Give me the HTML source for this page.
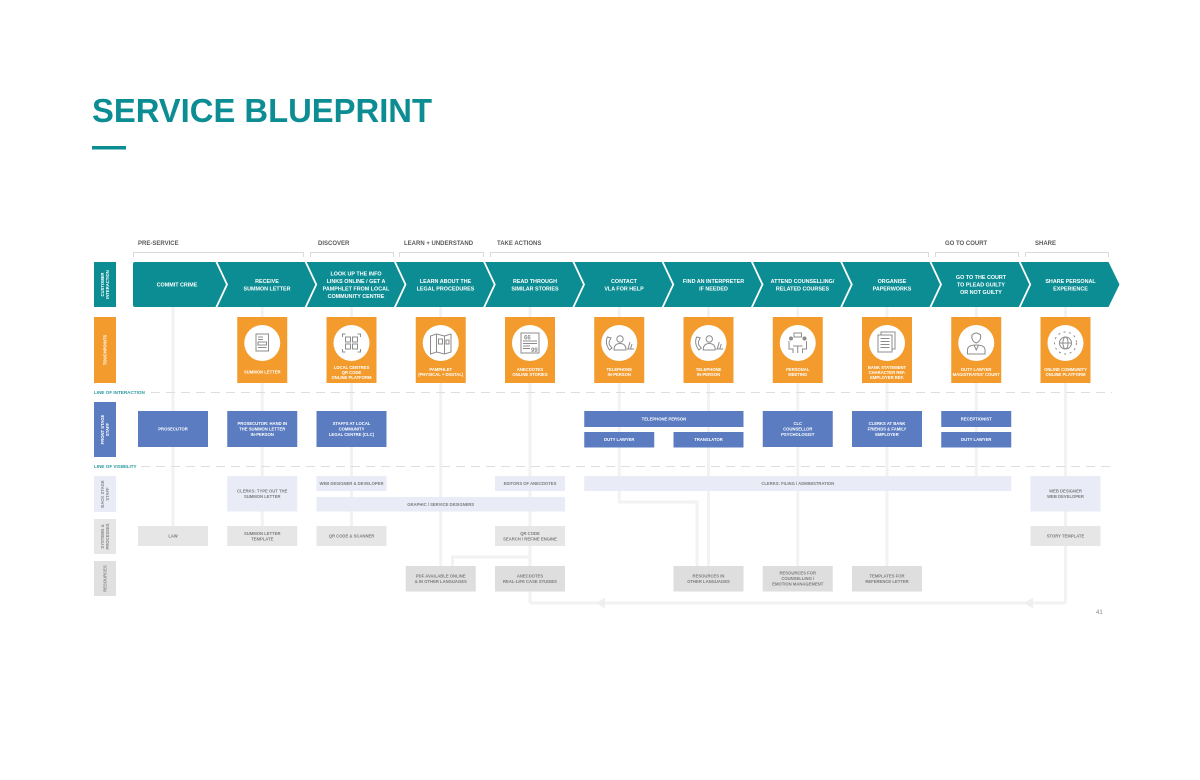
<!DOCTYPE html>
<html>
<head>
<meta charset="utf-8">
<style>
html,body{margin:0;padding:0;background:#fff;}
svg{display:block;}
text{font-family:"Liberation Sans",sans-serif;}
.ph{font-size:6px;font-weight:bold;fill:#5a5a5a;}
.ch{font-size:5.4px;font-weight:bold;fill:#fff;}
.bw{font-size:4.2px;font-weight:bold;fill:#fff;}
.bg{font-size:4.2px;font-weight:bold;fill:#7d7d7d;}
.lb{font-size:4.2px;font-weight:bold;fill:#fff;}
.lg{font-size:4.2px;font-weight:bold;fill:#8a8a8a;}
.ln{font-size:4.6px;font-weight:bold;fill:#2a9aa0;}
.ic{fill:none;stroke:#8c8c8c;stroke-width:1;}
.icf{fill:#8c8c8c;}
</style>
</head>
<body>
<svg width="1200" height="780" viewBox="0 0 1200 780" xmlns="http://www.w3.org/2000/svg">
<rect width="1200" height="780" fill="#fff"/>

<!-- Title -->
<text x="92" y="122" font-size="33" font-weight="bold" fill="#0b8d93" textLength="340" lengthAdjust="spacingAndGlyphs">SERVICE BLUEPRINT</text>
<rect x="92" y="146" width="34" height="3.5" fill="#0b8d93"/>

<!-- Phase labels -->
<text class="ph" x="138" y="245">PRE-SERVICE</text>
<text class="ph" x="318" y="245">DISCOVER</text>
<text class="ph" x="404" y="245">LEARN + UNDERSTAND</text>
<text class="ph" x="497" y="245">TAKE ACTIONS</text>
<text class="ph" x="945" y="245">GO TO COURT</text>
<text class="ph" x="1035" y="245">SHARE</text>

<!-- Brackets -->
<g fill="none" stroke="#dadada" stroke-width="1">
<path d="M133.5,257 V252.5 H303.5 V257"/>
<path d="M310.5,257 V252.5 H393.5 V257"/>
<path d="M399.5,257 V252.5 H483.5 V257"/>
<path d="M490.5,257 V252.5 H928.5 V257"/>
<path d="M935.5,257 V252.5 H1018.5 V257"/>
<path d="M1025.5,257 V252.5 H1108.5 V257"/>
</g>

<!-- Connectors -->
<g fill="none" stroke="#f2f2f2" stroke-width="3">
<line x1="173" y1="307" x2="173" y2="526"/>
<line x1="262.25" y1="307" x2="262.25" y2="526"/>
<line x1="351.5" y1="307" x2="351.5" y2="526"/>
<line x1="440.75" y1="307" x2="440.75" y2="566"/>
<line x1="530" y1="307" x2="530" y2="603"/>
<path d="M619.25,307 V502 H697 V566"/>
<line x1="708.5" y1="307" x2="708.5" y2="566"/>
<line x1="797.75" y1="307" x2="797.75" y2="566"/>
<line x1="887" y1="307" x2="887" y2="566"/>
<line x1="976.25" y1="307" x2="976.25" y2="476"/>
<line x1="1065.5" y1="307" x2="1065.5" y2="603"/>
<line x1="530" y1="603" x2="1065.5" y2="603"/>
<path d="M530,557 H452.5 V566"/>
</g>
<polygon points="596,603 605,597.5 605,608.5" fill="#efefef"/>
<polygon points="1024,603 1033,597.5 1033,608.5" fill="#efefef"/>

<!-- Left labels -->
<rect x="94" y="262" width="22" height="45" fill="#0b8d93"/>
<text class="lb" text-anchor="middle" transform="translate(105,284.5) rotate(-90)"><tspan x="0" y="-0.8">CUSTOMER</tspan><tspan x="0" y="4.2">INTERACTION</tspan></text>
<rect x="94" y="317" width="22" height="66" fill="#f39c2d"/>
<text class="lb" text-anchor="middle" transform="translate(105,350) rotate(-90)"><tspan x="0" y="1.5">TOUCHPOINTS</tspan></text>
<rect x="94" y="402" width="22" height="55" fill="#5b7cc1"/>
<text class="lb" text-anchor="middle" transform="translate(105,429.5) rotate(-90)"><tspan x="0" y="-0.8">FRONT STAGE</tspan><tspan x="0" y="4.2">STAFF</tspan></text>
<rect x="94" y="476" width="22" height="36" fill="#e9ebf7"/>
<text class="lg" text-anchor="middle" transform="translate(105,494) rotate(-90)"><tspan x="0" y="-0.8">BACK STAGE</tspan><tspan x="0" y="4.2">STAFF</tspan></text>
<rect x="94" y="519" width="22" height="35" fill="#e6e6e6"/>
<text class="lg" text-anchor="middle" transform="translate(105,536.5) rotate(-90)"><tspan x="0" y="-0.8">SYSTEMS &amp;</tspan><tspan x="0" y="4.2">PROCESSES</tspan></text>
<rect x="94" y="561" width="22" height="35" fill="#e0e0e0"/>
<text class="lg" text-anchor="middle" transform="translate(105,578.5) rotate(-90)"><tspan x="0" y="1.5">RESOURCES</tspan></text>

<!-- Chevrons -->
<path d="M135,262 H1108.5 L1119.5,284.5 L1108.5,307 H135 Q133,307 133,305 V264 Q133,262 135,262 Z" fill="#0b8d93"/>
<g fill="none" stroke="#fff" stroke-width="1.8">
<polyline points="216,261 227,284.5 216,308"/>
<polyline points="305.25,261 316.25,284.5 305.25,308"/>
<polyline points="394.5,261 405.5,284.5 394.5,308"/>
<polyline points="483.75,261 494.75,284.5 483.75,308"/>
<polyline points="573,261 584,284.5 573,308"/>
<polyline points="662.25,261 673.25,284.5 662.25,308"/>
<polyline points="751.5,261 762.5,284.5 751.5,308"/>
<polyline points="840.75,261 851.75,284.5 840.75,308"/>
<polyline points="930,261 941,284.5 930,308"/>
<polyline points="1019.25,261 1030.25,284.5 1019.25,308"/>
</g>
<g class="ch" text-anchor="middle">
<text x="177" y="286.5">COMMIT CRIME</text>
<text x="267"><tspan x="267" y="282.8">RECEIVE</tspan><tspan x="267" y="290.3">SUMMON LETTER</tspan></text>
<text><tspan x="356" y="275.3">LOOK UP THE INFO</tspan><tspan x="356" y="282.8">LINKS ONLINE / GET A</tspan><tspan x="356" y="290.3">PAMPHLET FROM  LOCAL</tspan><tspan x="356" y="297.8">COMMUNITY CENTRE</tspan></text>
<text><tspan x="445.5" y="282.8">LEARN ABOUT THE</tspan><tspan x="445.5" y="290.3">LEGAL PROCEDURES</tspan></text>
<text><tspan x="535" y="282.8">READ THROUGH</tspan><tspan x="535" y="290.3">SIMILAR STORIES</tspan></text>
<text><tspan x="624" y="282.8">CONTACT</tspan><tspan x="624" y="290.3">VLA FOR HELP</tspan></text>
<text><tspan x="713.5" y="282.8">FIND AN INTERPRETER</tspan><tspan x="713.5" y="290.3">IF NEEDED</tspan></text>
<text><tspan x="802.5" y="282.8">ATTEND COUNSELLING/</tspan><tspan x="802.5" y="290.3">RELATED COURSES</tspan></text>
<text><tspan x="892" y="282.8">ORGANISE</tspan><tspan x="892" y="290.3">PAPERWORKS</tspan></text>
<text><tspan x="981" y="279">GO TO THE COURT</tspan><tspan x="981" y="286.5">TO PLEAD GUILTY</tspan><tspan x="981" y="294">OR NOT GUILTY</tspan></text>
<text><tspan x="1070.5" y="282.8">SHARE PERSONAL</tspan><tspan x="1070.5" y="290.3">EXPERIENCE</tspan></text>
</g>

<!-- Touchpoints -->
<g fill="#f39c2d">
<rect x="237.25" y="317" width="50" height="66"/>
<rect x="326.5" y="317" width="50" height="66"/>
<rect x="415.75" y="317" width="50" height="66"/>
<rect x="505" y="317" width="50" height="66"/>
<rect x="594.25" y="317" width="50" height="66"/>
<rect x="683.5" y="317" width="50" height="66"/>
<rect x="772.75" y="317" width="50" height="66"/>
<rect x="862" y="317" width="50" height="66"/>
<rect x="951.25" y="317" width="50" height="66"/>
<rect x="1040.5" y="317" width="50" height="66"/>
</g>
<g fill="#fff">
<circle cx="262.25" cy="343" r="18"/>
<circle cx="351.5" cy="343" r="18"/>
<circle cx="440.75" cy="343" r="18"/>
<circle cx="530" cy="343" r="18"/>
<circle cx="619.25" cy="343" r="18"/>
<circle cx="708.5" cy="343" r="18"/>
<circle cx="797.75" cy="343" r="18"/>
<circle cx="887" cy="343" r="18"/>
<circle cx="976.25" cy="343" r="18"/>
<circle cx="1065.5" cy="343" r="18"/>
</g>
<!-- icons -->
<g class="ic">
<rect x="256" y="334" width="12.5" height="17"/>
<line x1="258" y1="337" x2="263" y2="337"/><line x1="258" y1="339.5" x2="263" y2="339.5"/>
<rect x="258" y="342" width="8.5" height="3"/>
<line x1="258" y1="347.5" x2="266.5" y2="347.5"/>
<path d="M342.5,337 V334 H345.5 M357.5,334 H360.5 V337 M360.5,349 V352 H357.5 M345.5,352 H342.5 V349"/>
<rect x="345.5" y="337" width="5" height="5"/><rect x="352.5" y="337" width="5" height="5"/>
<rect x="345.5" y="344" width="5" height="5"/><rect x="352.5" y="344" width="5" height="5"/>
<path d="M430.5,336 L436.5,334 L444.5,336 L451,334 V352 L444.5,354 L436.5,352 L430.5,354 Z"/>
<line x1="436.5" y1="334" x2="436.5" y2="352"/><line x1="444.5" y1="336" x2="444.5" y2="354"/>
<rect x="438.5" y="339" width="4" height="5"/><rect x="446" y="340" width="3" height="4"/>
<rect x="521" y="333" width="18" height="20"/>
<line x1="523" y1="341" x2="537" y2="341"/><line x1="523" y1="343.5" x2="537" y2="343.5"/>
<line x1="523" y1="346" x2="530" y2="346"/><line x1="523" y1="348.5" x2="530" y2="348.5"/>
<path d="M607.5,337 Q604.5,343 609.5,350 L612,348 L609.5,345 Q608.5,342 610,340 L611,338 Z"/>
<circle cx="620" cy="339" r="3.2"/><path d="M614,350 Q614,343.5 620,343.5 Q626,343.5 626,350 Z"/>
<path d="M628,349 L630,342 M630.5,349 L632,344 M627,349 H634"/>
<path d="M696.75,337 Q693.75,343 698.75,350 L701.25,348 L698.75,345 Q697.75,342 699.25,340 L700.25,338 Z"/>
<circle cx="709.25" cy="339" r="3.2"/><path d="M703.25,350 Q703.25,343.5 709.25,343.5 Q715.25,343.5 715.25,350 Z"/>
<path d="M717.25,349 L719.25,342 M719.75,349 L721.25,344 M716.25,349 H723.25"/>
<path d="M789,341 V349 H793 V353 M806.5,341 V349 H802.5 V353"/>
<line x1="793" y1="346" x2="802.5" y2="346"/><line x1="797.75" y1="346" x2="797.75" y2="353"/>
<rect x="794" y="333" width="7.5" height="4"/>
<rect x="878" y="335" width="14" height="17"/>
<path d="M881,335 V332 H895 V349 H892"/>
<line x1="880.5" y1="338.5" x2="889.5" y2="338.5"/><line x1="880.5" y1="341.5" x2="889.5" y2="341.5"/>
<line x1="880.5" y1="344.5" x2="889.5" y2="344.5"/><line x1="880.5" y1="347.5" x2="889.5" y2="347.5"/>
<path d="M972,335 Q976.25,331 980.5,335 Q981.5,341 976.25,343 Q971,341 972,335 Z"/>
<path d="M967.5,354 V350 Q967.5,345 976.25,345 Q985,345 985,350 V354 Z"/>
<path d="M974,345 L976.25,350 L978.5,345"/>
<circle cx="1065.5" cy="343" r="6"/>
<ellipse cx="1065.5" cy="343" rx="2.6" ry="6"/>
<line x1="1059.5" y1="343" x2="1071.5" y2="343"/>
<circle cx="1065.5" cy="343" r="11" stroke-dasharray="2 3.5"/>
</g>
<g class="icf">
<circle cx="791" cy="338.5" r="2"/><circle cx="804.5" cy="338.5" r="2"/>
<text x="524" y="339.5" font-size="6" font-weight="bold" fill="#8c8c8c">66</text>
<text x="531" y="352" font-size="6" font-weight="bold" fill="#8c8c8c">99</text>
</g>
<g class="bw" text-anchor="middle">
<text x="262.25" y="373.5">SUMMON LETTER</text>
<text><tspan x="351.5" y="369">LOCAL CENTRES</tspan><tspan x="351.5" y="374">QR CODE</tspan><tspan x="351.5" y="379">ONLINE PLATFORM</tspan></text>
<text><tspan x="440.75" y="371">PAMPHLET</tspan><tspan x="440.75" y="376">(PHYSICAL + DIGITAL)</tspan></text>
<text><tspan x="530" y="371">ANECDOTES</tspan><tspan x="530" y="376">ONLINE STORIES</tspan></text>
<text><tspan x="619.25" y="371">TELEPHONE</tspan><tspan x="619.25" y="376">IN-PERSON</tspan></text>
<text><tspan x="708.5" y="371">TELEPHONE</tspan><tspan x="708.5" y="376">IN-PERSON</tspan></text>
<text><tspan x="797.75" y="371">PERSONAL</tspan><tspan x="797.75" y="376">MEETING</tspan></text>
<text><tspan x="887" y="369">BANK STATEMENT</tspan><tspan x="887" y="374">CHARACTER REF.</tspan><tspan x="887" y="379">EMPLOYER REF.</tspan></text>
<text><tspan x="976.25" y="371">DUTY LAWYER</tspan><tspan x="976.25" y="376">MAGISTRATES' COURT</tspan></text>
<text><tspan x="1065.5" y="371">ONLINE COMMUNITY</tspan><tspan x="1065.5" y="376">ONLINE PLATFORM</tspan></text>
</g>

<!-- Lines of interaction / visibility -->
<text class="ln" x="94" y="394">LINE OF INTERACTION</text>
<line x1="151" y1="392.5" x2="1112" y2="392.5" stroke="#dedede" stroke-width="1" stroke-dasharray="9 6"/>
<text class="ln" x="94" y="468">LINE OF VISIBILITY</text>
<line x1="141" y1="466.5" x2="1112" y2="466.5" stroke="#dedede" stroke-width="1" stroke-dasharray="9 6"/>

<!-- Front stage -->
<g fill="#5b7cc1">
<rect x="138" y="411" width="70" height="36"/>
<rect x="227.25" y="411" width="70" height="36"/>
<rect x="316.5" y="411" width="70" height="36"/>
<rect x="584.25" y="411" width="159.25" height="16"/>
<rect x="584.25" y="432" width="70" height="15.5"/>
<rect x="673.5" y="432" width="70" height="15.5"/>
<rect x="762.75" y="411" width="70" height="36"/>
<rect x="852" y="411" width="70" height="36"/>
<rect x="941.25" y="411" width="70" height="16"/>
<rect x="941.25" y="432" width="70" height="15.5"/>
</g>
<g class="bw" text-anchor="middle">
<text x="173" y="430.5">PROSECUTOR</text>
<text><tspan x="262.25" y="425">PROSECUTOR: HAND IN</tspan><tspan x="262.25" y="430.5">THE SUMMON LETTER</tspan><tspan x="262.25" y="436">IN-PERSON</tspan></text>
<text><tspan x="351.5" y="425">STAFFS AT LOCAL</tspan><tspan x="351.5" y="430.5">COMMUNITY</tspan><tspan x="351.5" y="436">LEGAL CENTRE (CLC)</tspan></text>
<text x="663.9" y="420.5">TELEPHONE PERSON</text>
<text x="619.25" y="441.2">DUTY LAWYER</text>
<text x="708.5" y="441.2">TRANSLATOR</text>
<text><tspan x="797.75" y="425">CLC</tspan><tspan x="797.75" y="430.5">COUNSELLOR</tspan><tspan x="797.75" y="436">PSYCHOLOGIST</tspan></text>
<text><tspan x="887" y="425">CLERKS AT BANK</tspan><tspan x="887" y="430.5">FRIENDS &amp; FAMILY</tspan><tspan x="887" y="436">EMPLOYER</tspan></text>
<text x="976.25" y="420.5">RECEPTIONIST</text>
<text x="976.25" y="441.2">DUTY LAWYER</text>
</g>

<!-- Back stage -->
<g fill="#e9ebf7">
<rect x="227.25" y="476" width="70" height="35.5"/>
<rect x="316.5" y="476" width="70" height="15"/>
<rect x="316.5" y="497" width="248.5" height="14.5"/>
<rect x="495" y="476" width="70" height="15"/>
<rect x="584.25" y="476" width="427" height="15"/>
<rect x="1030.5" y="476" width="70" height="35.5"/>
</g>
<g class="bg" text-anchor="middle">
<text><tspan x="262.25" y="492.5">CLERKS: TYPE OUT THE</tspan><tspan x="262.25" y="498">SUMMON LETTER</tspan></text>
<text x="351.5" y="485">WEB DESIGNER &amp; DEVELOPER</text>
<text x="440.75" y="505.8">GRAPHIC / SERVICE DESIGNERS</text>
<text x="530" y="485">EDITORS OF ANECDOTES</text>
<text x="797.75" y="485">CLERKS: FILING / ADMINISTRATION</text>
<text><tspan x="1065.5" y="492.5">WEB DESIGNER</tspan><tspan x="1065.5" y="498">WEB DEVELOPER</tspan></text>
</g>

<!-- Systems -->
<g fill="#e6e6e6">
<rect x="138" y="526" width="70" height="20"/>
<rect x="227.25" y="526" width="70" height="20"/>
<rect x="316.5" y="526" width="70" height="20"/>
<rect x="495" y="526" width="70" height="20"/>
<rect x="1030.5" y="526" width="70" height="20"/>
</g>
<g class="bg" text-anchor="middle">
<text x="173" y="537.5">LAW</text>
<text><tspan x="262.25" y="534.8">SUMMON LETTER</tspan><tspan x="262.25" y="540.3">TEMPLATE</tspan></text>
<text x="351.5" y="537.5">QR CODE &amp; SCANNER</text>
<text><tspan x="530" y="534.8">QR CODE</tspan><tspan x="530" y="540.3">SEARCH / REFINE ENGINE</tspan></text>
<text x="1065.5" y="537.5">STORY TEMPLATE</text>
</g>

<!-- Resources -->
<g fill="#dedede">
<rect x="405.75" y="566" width="70" height="25.5"/>
<rect x="495" y="566" width="70" height="25.5"/>
<rect x="673.5" y="566" width="70" height="25.5"/>
<rect x="762.75" y="566" width="70" height="25.5"/>
<rect x="852" y="566" width="70" height="25.5"/>
</g>
<g class="bg" text-anchor="middle">
<text><tspan x="440.75" y="577.3">PDF AVAILABLE ONLINE</tspan><tspan x="440.75" y="582.8">&amp; IN OTHER LANGUAGES</tspan></text>
<text><tspan x="530" y="577.3">ANECDOTES</tspan><tspan x="530" y="582.8">REAL-LIFE CASE STUDIES</tspan></text>
<text><tspan x="708.5" y="577.3">RESOURCES IN</tspan><tspan x="708.5" y="582.8">OTHER LANGUAGES</tspan></text>
<text><tspan x="797.75" y="574.5">RESOURCES FOR</tspan><tspan x="797.75" y="580">COUNSELLING /</tspan><tspan x="797.75" y="585.5">EMOTION MANAGEMENT</tspan></text>
<text><tspan x="887" y="577.3">TEMPLATES FOR</tspan><tspan x="887" y="582.8">REFERENCE LETTER</tspan></text>
</g>

<!-- Page number -->
<text x="1096" y="614" font-size="6" fill="#8a8a8a">41</text>
</svg>
</body>
</html>
